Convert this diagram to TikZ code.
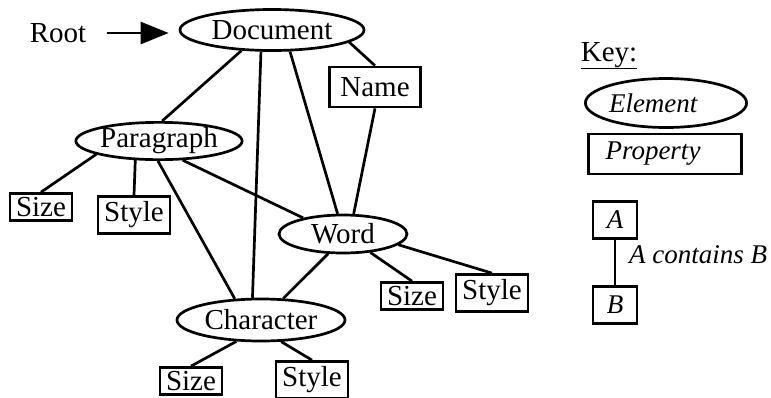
\documentclass[tikz,border=0pt]{standalone}
\usepackage{fontspec}
\setmainfont{Liberation Serif}
\usetikzlibrary{shapes.geometric, arrows.meta}

\begin{document}
\begin{tikzpicture}[x = 1pt, y = -1pt, line width = 2.7pt,
        every node/.style = {font = \fontsize{29}{33}\selectfont, inner sep = 0pt},
        keytext/.style = {font = \fontsize{27}{31}\selectfont\itshape},
        elem/.style = {draw, ellipse},
        prop/.style = {draw, rectangle},
        sizebox/.style = {prop, minimum width = 62pt, minimum height = 27pt},
        stylebox/.style = {prop, minimum width = 72pt, minimum height = 37pt},
        keybox/.style = {prop, keytext, minimum width = 44pt, minimum height = 37pt},
        rootarrow/.style = {-{Triangle[length = 28pt, width = 22pt]}}
    ]
            \useasboundingbox (0, 0) rectangle (771, 397);

            \draw
                (58, 33) node (root) {Root}
                (272, 30) node (doc) [elem, minimum width = 184pt, minimum height = 41pt] {Document}
                (375, 87) node (name) [prop, minimum width = 91pt, minimum height = 40pt] {Name}
                (159, 141) node (para) [elem, minimum width = 161pt, minimum height = 35pt] {Paragraph}
                (41, 207) node (parasize) [sizebox] {Size}
                (134, 215) node (parastyle) [stylebox] {Style}
                (343, 234) node (word) [elem, minimum width = 128pt, minimum height = 38pt] {Word}
                (412, 296) node (wordsize) [sizebox] {Size}
                (492, 293) node (wordstyle) [stylebox] {Style}
                (261, 320) node (char) [elem, minimum width = 168pt, minimum height = 42pt] {Character}
                (191, 381) node (charsize) [sizebox] {Size}
                (312, 380) node (charstyle) [stylebox] {Style}

                (doc.214) edge (para.81)
                (doc.243) edge (char.111)
                (doc.310) edge (word.105)
                (doc.351) edge (name.north)
                (name.south) edge (word.62)

                (para.192) edge (parasize.north)
                (para.219) edge (parastyle.north)
                (para.267) edge (char.141)
                (para.321) edge (word.158)

                (word.233) edge (char.44)
                (word.326) edge (wordsize.north)
                (word.349) edge (wordstyle.north)

                (char.221) edge (charsize.north)
                (char.313) edge (charstyle.north)
            ;

            \draw [rootarrow, shorten <= 19pt, shorten >= 10pt] (root.east) -- (root.east -| doc.west);

            % key
            \draw
                (609, 61) node (key) [anchor = base] {\underline{Key:}}
                (666, 103) node (element) [elem, keytext, minimum height = 49pt, text width = 114pt, align = left] {Element}
                (665, 154) node (property) [prop, keytext, minimum height = 40pt, text width = 119pt, inner xsep = 17pt, align = left] {Property}
                (615, 220) node (a) [keybox] {A}
                (615, 305) node (b) [keybox] {B}
                (698, 255) node (contains) [keytext] {A contains B}

                (a) edge (b)
            ;
        \end{tikzpicture}
\end{document}
